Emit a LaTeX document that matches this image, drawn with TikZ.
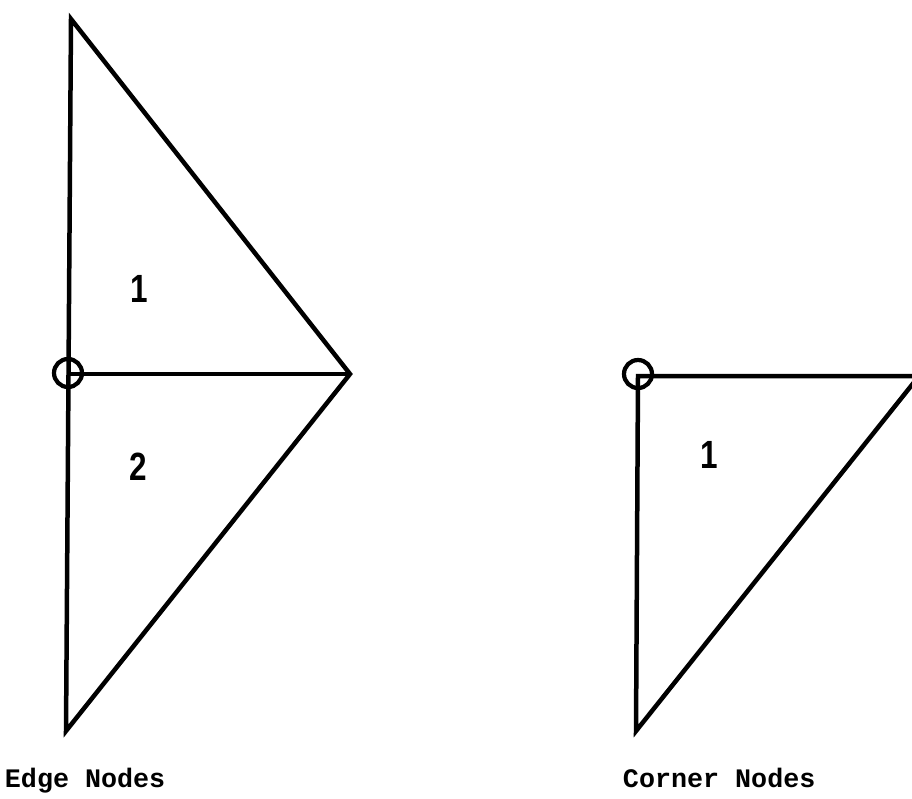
\documentclass[tikz,border=0pt]{standalone}
\usepackage{fontspec}
\newfontfamily\capfont{Liberation Mono}
\newfontfamily\numfont{Liberation Sans}
\tikzset{
  meshline/.style={line width=3.2pt,draw=black,line join=miter},
  nodemark/.style={circle,draw=black,line width=3pt,minimum size=0.7cm,inner sep=0pt},
  elemnum/.style={font=\numfont\bfseries\fontsize{28}{28}\selectfont,xscale=0.8,transform shape},
  captext/.style={font=\capfont\bfseries\fontsize{19}{19}\selectfont,anchor=base west}
}
\begin{document}
\begin{tikzpicture}[x=0.025cm,y=-0.025cm]
  \useasboundingbox (0,0) rectangle (912,798);

  % Edge nodes: two elements sharing the left edge
  \coordinate (lt) at (71,19);
  \coordinate (lm) at (68,374);
  \coordinate (lr) at (350,374);
  \coordinate (lb) at (66,731);
  \draw[meshline] (lt) -- (lr) -- (lb) -- cycle;
  \draw[meshline] (lm) -- (lr);
  \node[nodemark] (edgenode) at (68,373) {};
  \node[elemnum] (lnum1) at (139,289) {1};
  \node[elemnum] (lnum2) at (138,467) {2};
  \node[captext] (edgecap) at (0,787) {Edge Nodes};

  % Corner nodes: one element, node at its corner
  \coordinate (rc) at (638,376);
  \coordinate (rr) at (919,376);
  \coordinate (rb) at (636,731);
  \draw[meshline] (rc) -- (rr) -- (rb) -- cycle;
  \node[nodemark] (cornernode) at (638,374) {};
  \node[elemnum] (rnum1) at (709,455) {1};
  \node[captext] (cornercap) at (618,787) {Corner Nodes};

\end{tikzpicture}
\end{document}
